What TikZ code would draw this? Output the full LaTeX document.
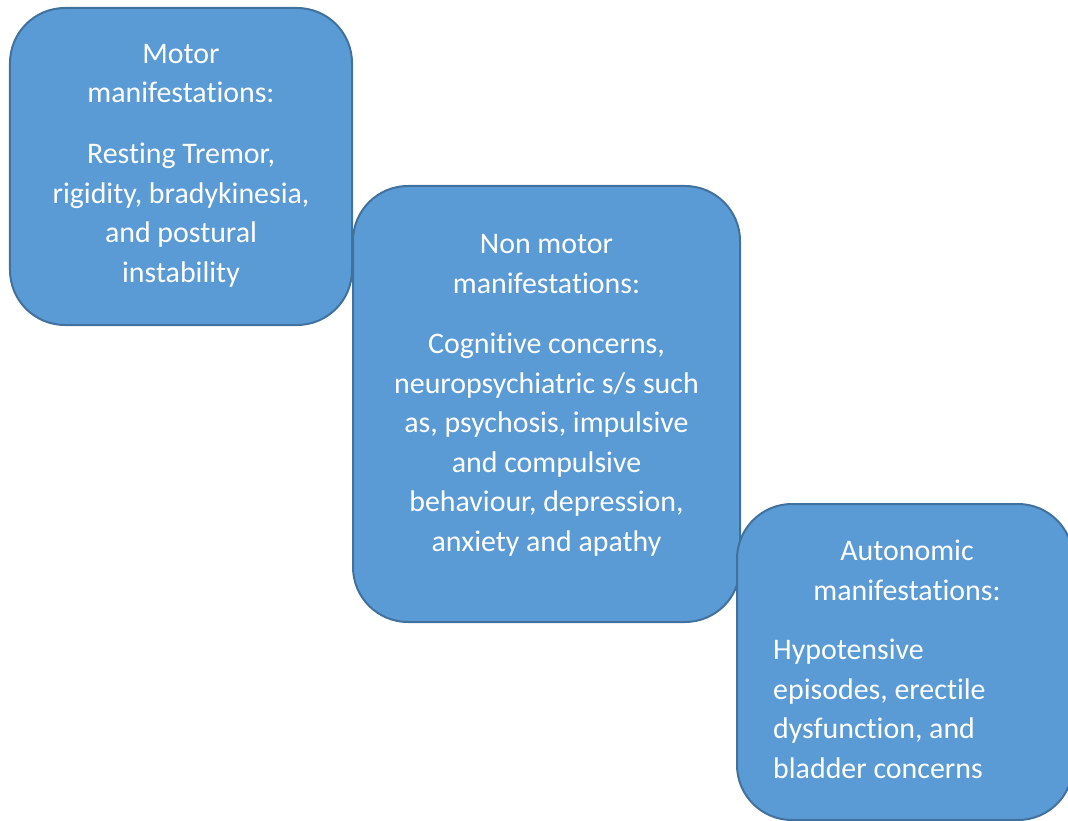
\documentclass[tikz,border=0pt]{standalone}
\usepackage{fontspec}
\setmainfont[Ligatures={NoCommon}]{Carlito}
\definecolor{boxfill}{HTML}{5B9BD5}
\definecolor{boxline}{HTML}{41719C}
\begin{document}
\begin{tikzpicture}[x=1bp,y=-1bp,
  card/.style={draw=boxline, fill=boxfill, line width=2bp, rounded corners=55bp, inner sep=0pt},
  txt/.style={text=white, inner sep=0pt, anchor=base, font=\fontsize{30}{34}\selectfont},
  txtl/.style={txt, anchor=base west}]
\useasboundingbox (0,0) rectangle (1068,821);
\clip (0,0) rectangle (1068,821);
% box 1
\node[card, minimum width=342bp, minimum height=317bp] (b1) at (181,166.5) {};
\node[txt] (b1l1) at (181,63.5) {Motor};
\node[txt] (b1l2) at (181,103) {manifestations:};
\node[txt] (b1l3) at (181,163.5) {Resting Tremor,};
\node[txt] (b1l4) at (181,203) {rigidity, bradykinesia,};
\node[txt] (b1l5) at (181,242.5) {and postural};
\node[txt] (b1l6) at (181,282) {instability};
% box 2
\node[card, minimum width=387bp, minimum height=436bp] (b2) at (546.5,404) {};
\node[txt] (b2l1) at (546.5,253.5) {Non motor};
\node[txt] (b2l2) at (546.5,293) {manifestations:};
\node[txt] (b2l3) at (546.5,353.5) {Cognitive concerns,};
\node[txt] (b2l4) at (546.5,393) {neuropsychiatric s/s such};
\node[txt] (b2l5) at (546.5,432.5) {as, psychosis, impulsive};
\node[txt] (b2l6) at (546.5,472) {and compulsive};
\node[txt] (b2l7) at (546.5,511.5) {behaviour, depression,};
\node[txt] (b2l8) at (546.5,551) {anxiety and apathy};
% box 3
\node[card, minimum width=336bp, minimum height=316bp] (b3) at (905,662) {};
\node[txt] (b3l1) at (907,560.5) {Autonomic};
\node[txt] (b3l2) at (907,600) {manifestations:};
\node[txtl] (b3l3) at (773,659.5) {Hypotensive};
\node[txtl] (b3l4) at (773,699) {episodes, erectile};
\node[txtl] (b3l5) at (773,738.5) {dysfunction, and};
\node[txtl] (b3l6) at (773,778) {bladder concerns};
\end{tikzpicture}
\end{document}
